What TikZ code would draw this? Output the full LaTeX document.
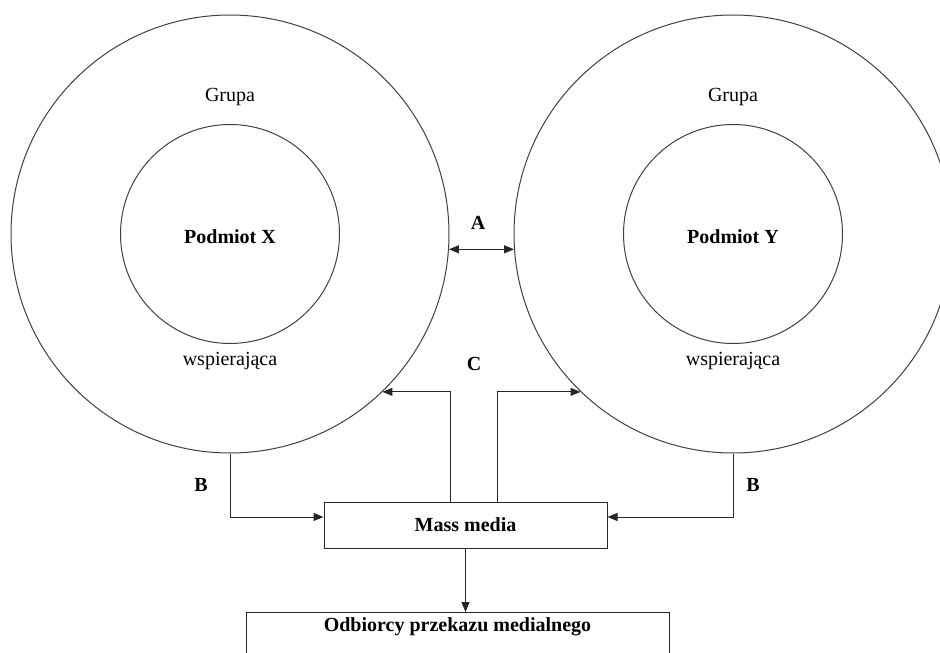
\documentclass[tikz,border=0pt]{standalone}
\usepackage{fontspec}
\setmainfont{Liberation Serif}
\usetikzlibrary{arrows.meta}

\begin{document}
\begin{tikzpicture}[
x=1pt, y=-1pt,
every node/.style={font=\fontsize{20}{24}\selectfont},
ring/.style={circle, draw=black!75, line width=1pt, inner sep=0pt},
box/.style={draw=black!85, line width=1pt, inner sep=0pt},
lab/.style={font=\fontsize{20}{24}\selectfont\bfseries},
conn/.style={line width=1pt, draw=black!85, -{Triangle[length=10pt,width=8pt]}},
dconn/.style={line width=1pt, draw=black!85, {Triangle[length=10pt,width=8pt]}-{Triangle[length=10pt,width=8pt]}}
]

%% Box
\useasboundingbox (0,0) rectangle (940,653);

\def\ro{438pt}	% outer diameter
\def\ri{219pt}	% inner diameter
\def\cy{234}

\foreach \nm/\cx in {X/230,Y/733}{
% % group
\node[ring, minimum size=\ro] (out\nm) at (\cx,\cy) {};
\node[ring, minimum size=\ri] (in\nm) at (\cx,\cy) {};
\node (gr\nm) at (\cx,97) {Grupa};
\node[lab] (pod\nm) at (\cx,237) {Podmiot \nm};
\node (ws\nm) at (\cx,361) {wspierająca};
}

% % media
\node[box, lab, minimum width=283pt, minimum height=46pt] (mm) at (465.5,525) {Mass media};
\node[box, lab, anchor=north, minimum width=423pt, text height=19pt, text depth=40pt] (odb) at (457.5,612) {Odbiorcy przekazu medialnego};

\node[lab] (la) at (478,223) {A};
\node[lab] (lc) at (474,364) {C};
\node[lab] (lbx) at (201,485) {B};
\node[lab] (lby) at (753,485) {B};

% % arrows
\draw[dconn] (outX.-4.5) -- (outY.184.5);
\draw[conn] (outX.south) |- ([yshift=8pt]mm.west);
\draw[conn] (outY.south) |- ([yshift=8pt]mm.east);
\draw[conn] ([xshift=-15.5pt]mm.north) |- (outX.-46);
\draw[conn] ([xshift=31.5pt]mm.north) |- (outY.226);
\draw[conn] (mm.south) -- (mm.south |- odb.north);

\end{tikzpicture}
\end{document}
